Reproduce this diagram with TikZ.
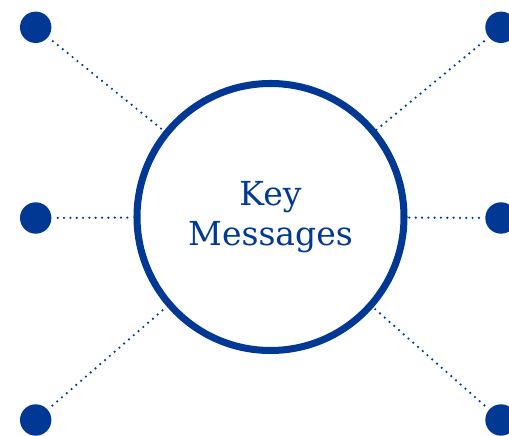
\documentclass[tikz,border=0pt]{standalone}
\usepackage{fontspec}
\setmainfont{DejaVu Serif}
\usepackage{tikz}
\usetikzlibrary{positioning}
\definecolor{keyblue}{RGB}{0,56,147}

\begin{document}
\begin{tikzpicture}[scale=1.0,
  hub/.style={circle, draw=keyblue, line width=4pt, minimum size=5.34cm,
    inner sep=0pt, text=keyblue, align=center},
  bullet/.style={circle, fill=keyblue, minimum size=0.628cm, inner sep=0pt},
  link/.style={keyblue, line width=1.4pt, line cap=round,
    dash pattern=on 0pt off 3.6pt, shorten <=0.12cm}]
  \clip (0,0) rectangle (10.18,8.72);

  % Central circle
  \node[hub, font=\fontsize{18.8}{22.8}\selectfont] (key) at (5.41,4.38) {Key\\Messages};

  % Outer bullets
  \node[bullet] (tl) at (0.714,8.174) {};
  \node[bullet] (ml) at (0.714,4.36) {};
  \node[bullet] (bl) at (0.714,0.32) {};
  \node[bullet] (tr) at (10.02,8.174) {};
  \node[bullet] (mr) at (10.02,4.36) {};
  \node[bullet] (br) at (10.02,0.32) {};

  % Dotted links
  \foreach \b in {tl,ml,bl,tr,mr,br}
    \draw[link] (\b) -- (key);
\end{tikzpicture}
\end{document}
